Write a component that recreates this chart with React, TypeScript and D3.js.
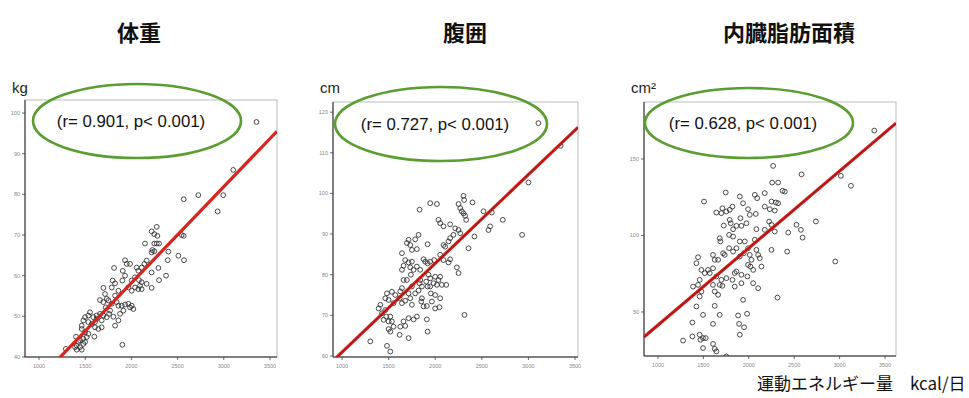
import * as d3 from "d3";

// 運動エネルギー量 (kcal/日) vs 体重 / 腹囲 / 内臓脂肪面積
const titles = ["体重", "腹囲", "内臓脂肪面積"];
const units = ["kg", "cm", "cm²"];
const stats = ["(r= 0.901, p< 0.001)", "(r= 0.727, p< 0.001)", "(r= 0.628, p< 0.001)"];
const xTicks = [1000, 1500, 2000, 2500, 3000, 3500];
const weightTicks = [40, 50, 60, 70, 80, 90, 100];
const waistTicks = [60, 70, 80, 90, 100, 110, 120];
const vfaTicks = [50, 100, 150];

// fit lines: [slope, intercept]
const weightFit = [0.02366, 10.9];
const waistFit = [0.02185, 39.09];
const vfaFit = [0.05036, -8.96];

const weightPoints = [
  [2274, 72.0], [2219, 70.9], [2248, 70.2], [2281, 69.8], [2147, 67.9], [2248, 67.9], [2274, 67.9],
  [2299, 67.9], [2227, 66.3], [2248, 66.0], [2219, 65.7], [2544, 70.0], [2400, 65.9], [2508, 64.9],
  [2569, 63.8], [2393, 63.8], [2292, 61.9], [2219, 60.8], [2299, 58.9], [2375, 60.0], [2219, 57.0],
  [2165, 63.7], [2140, 62.9], [2111, 62.0], [2057, 62.0], [2075, 61.2], [2039, 59.6], [2082, 58.9],
  [2111, 58.4], [2093, 57.5], [2075, 56.7], [2111, 56.7], [2165, 58.0], [2039, 57.1], [2003, 56.3],
  [1967, 57.1], [2003, 58.8], [1931, 63.8], [1949, 62.9], [1985, 62.9], [1906, 61.2], [1931, 60.0],
  [1812, 61.9], [1902, 58.8], [1823, 58.1], [1797, 58.8], [1787, 57.1], [1859, 56.3], [1823, 55.1],
  [1696, 57.0], [1714, 55.5], [1733, 54.3], [1660, 54.0], [1696, 53.5], [1751, 53.9], [1787, 53.1],
  [1841, 53.5], [1859, 52.6], [1895, 52.6], [1931, 52.9], [1967, 53.1], [2003, 52.6], [2021, 51.8],
  [1985, 52.2], [1913, 51.4], [1877, 50.6], [1859, 49.0], [1823, 47.7], [1805, 49.9], [1758, 50.6],
  [1733, 49.8], [1696, 50.2], [1660, 50.6], [1624, 50.2], [1588, 49.8], [1552, 51.0], [1534, 50.2],
  [1498, 49.8], [1480, 49.0], [1624, 49.4], [1678, 49.0], [1606, 48.6], [1570, 48.1], [1534, 48.6],
  [1462, 47.7], [1462, 46.9], [1498, 46.1], [1534, 45.7], [1606, 47.3], [1678, 47.3], [1642, 46.9],
  [1599, 45.0], [1516, 44.9], [1480, 44.5], [1444, 44.1], [1426, 43.7], [1408, 42.8], [1390, 42.4],
  [1444, 42.4], [1480, 43.2], [1498, 43.7], [1408, 41.8], [1462, 41.8], [1902, 43.0], [1769, 51.4],
  [1722, 52.2], [3354, 97.8], [3102, 86.0], [2994, 79.8], [2933, 75.8], [2724, 79.8], [2566, 78.8],
  [2566, 69.8], [1290, 42.0], [1400, 45.0],
];

const waistPoints = [
  [2303, 99.4], [2310, 98.4], [2250, 97.4], [2400, 97.8], [2268, 96.4], [2285, 95.6], [2303, 95.1],
  [2321, 94.5], [2332, 93.5], [1946, 97.6], [2018, 97.4], [1832, 96.0], [2035, 93.5], [2053, 92.7],
  [2089, 91.9], [2160, 92.4], [2214, 91.4], [2250, 91.0], [2268, 90.2], [2196, 89.8], [2160, 89.0],
  [2143, 88.2], [2107, 86.9], [2089, 87.3], [2357, 86.5], [2421, 89.4], [2518, 95.6], [2571, 91.0],
  [2589, 91.9], [1821, 89.8], [1785, 88.7], [1714, 88.6], [1696, 87.8], [1732, 87.3], [1803, 86.3],
  [1750, 86.1], [1918, 87.5], [1643, 85.3], [1678, 83.6], [1714, 83.0], [1750, 83.2], [1660, 82.2],
  [1732, 81.8], [1739, 80.0], [1839, 81.2], [1875, 83.8], [1893, 83.2], [1918, 82.8], [1946, 83.2],
  [1989, 83.6], [2053, 84.9], [2089, 83.6], [2143, 83.0], [2160, 83.8], [2232, 81.8], [2250, 80.4],
  [1928, 80.0], [1946, 79.1], [1999, 79.5], [2053, 79.5], [2035, 78.7], [1982, 77.9], [2018, 77.5],
  [2071, 77.5], [2118, 77.5], [1946, 77.1], [1918, 77.1], [1903, 78.3], [1839, 78.7], [1857, 77.1],
  [1832, 77.9], [1696, 78.7], [1750, 77.1], [1714, 75.4], [1732, 74.2], [1643, 76.7], [1625, 75.9],
  [1618, 74.2], [1571, 75.0], [1535, 75.8], [1482, 75.4], [1464, 74.2], [1500, 73.8], [1553, 73.0],
  [1643, 73.0], [1678, 73.6], [1750, 72.6], [1857, 74.2], [1875, 72.2], [1910, 72.3], [1850, 73.4],
  [1964, 73.4], [1999, 71.7], [2046, 72.0], [2053, 74.2], [1999, 75.0], [1953, 75.4], [1411, 72.6],
  [1393, 71.7], [1464, 71.3], [1428, 70.5], [1475, 69.7], [1518, 69.7], [1446, 68.9], [1500, 68.5],
  [1535, 68.5], [1553, 67.2], [1500, 66.6], [1518, 66.0], [1625, 67.2], [1660, 68.5], [1714, 69.3],
  [1768, 69.0], [1803, 69.7], [1678, 67.4], [1910, 69.0], [1918, 66.0], [1618, 65.2], [1714, 64.4],
  [1303, 63.6], [1482, 62.5], [1518, 61.1], [2314, 70.1], [1785, 75.4], [1821, 76.1], [1660, 78.7],
  [1768, 81.2], [1803, 82.0], [1643, 81.2], [3107, 117.3], [3346, 111.7], [3000, 102.7], [2932, 89.8],
  [2725, 93.5], [2607, 95.3],
];

const vfaPoints = [
  [2257, 134.6], [2323, 134.6], [1746, 128.1], [2371, 129.2], [2397, 128.7], [1507, 122.2], [2066, 126.6],
  [2092, 124.4], [1901, 125.5], [1937, 121.1], [2176, 127.7], [2250, 122.2], [2298, 121.6], [2323, 121.1],
  [2176, 118.9], [2231, 117.2], [2286, 116.3], [1709, 117.8], [1643, 115.0], [1698, 114.6], [1753, 115.7],
  [1790, 116.8], [1820, 118.9], [1992, 117.2], [2011, 113.5], [2077, 114.1], [1790, 110.2], [1801, 108.0],
  [1724, 106.5], [1864, 106.3], [1919, 106.3], [1908, 111.3], [1974, 108.0], [1827, 104.1], [2084, 104.1],
  [2176, 103.7], [2224, 109.1], [2250, 107.0], [2286, 102.6], [2434, 101.9], [2525, 107.0], [1783, 100.4],
  [1827, 99.3], [1680, 98.2], [1687, 96.1], [1901, 96.1], [1956, 96.1], [2066, 97.2], [1992, 91.7],
  [2084, 90.6], [2103, 87.3], [2121, 85.2], [2139, 79.7], [2250, 90.6], [2423, 89.5], [1783, 91.7],
  [1827, 89.5], [1864, 91.7], [1901, 86.3], [1945, 88.4], [2011, 87.3], [2029, 84.1], [1992, 80.8],
  [2018, 79.7], [2048, 77.5], [1606, 87.3], [1625, 84.1], [1662, 84.1], [1717, 88.4], [1735, 87.3],
  [1441, 85.8], [1423, 81.9], [1478, 77.5], [1515, 75.4], [1551, 77.5], [1570, 75.4], [1606, 78.6],
  [1643, 73.2], [1698, 71.0], [1753, 72.1], [1845, 75.4], [1864, 76.5], [1820, 71.0], [1919, 68.8],
  [1845, 66.6], [1919, 74.3], [1985, 73.2], [2048, 68.8], [2103, 65.5], [1459, 71.0], [1441, 67.7],
  [1386, 66.6], [1478, 63.4], [1459, 60.1], [1606, 67.7], [1680, 67.7], [1709, 67.1], [1625, 63.4],
  [1662, 61.2], [1937, 57.9], [2316, 59.4], [1423, 53.6], [1625, 54.0], [1496, 48.1], [1680, 48.1],
  [1882, 47.7], [1981, 48.8], [1379, 43.1], [1606, 42.2], [1893, 42.2], [1948, 40.0], [1901, 35.1],
  [1276, 31.3], [1379, 34.0], [1459, 35.1], [1496, 32.9], [1526, 32.9], [1467, 31.8], [1496, 26.4],
  [1606, 29.1], [1625, 25.9], [1643, 24.2], [1753, 20.9], [3382, 168.6], [3014, 139.0], [3125, 132.5],
  [2952, 83.0], [2739, 109.2], [2581, 140.0], [2268, 145.5], [2574, 103.7], [2592, 98.6],
];

const panels = [
  { points: weightPoints, fit: weightFit, yTicks: weightTicks, xDomain: [848, 3576], yDomain: [40, 103.2],
    frame: [25, 277, 100, 357], titleX: 139, ellipse: [137, 121, 104, 37], core: false },
  { points: waistPoints, fit: waistFit, yTicks: waistTicks, xDomain: [903, 3532], yDomain: [59.75, 122.5],
    frame: [333, 578, 102, 357], titleX: 465, ellipse: [441, 124, 106, 37], core: true },
  { points: vfaPoints, fit: vfaFit, yTicks: vfaTicks, xDomain: [846, 3621], yDomain: [21.2, 187.3],
    frame: [644, 896, 102, 356], titleX: 789, ellipse: [749, 123, 104, 35], core: true },
];

const latin = "'Liberation Sans', Arial, sans-serif";
const jp = "'Noto Sans CJK JP', sans-serif";

const Panel = ({ p, i }) => {
  const [left, right, top, bottom] = p.frame;
  const x = d3.scaleLinear().domain(p.xDomain).range([left, right]);
  const y = d3.scaleLinear().domain(p.yDomain).range([bottom, top]);
  const [slope, icpt] = p.fit;
  const fitLine = d3.line().x((d) => x(d)).y((d) => y(slope * d + icpt));
  const clipId = `clip${i}`;
  const [ex, ey, rx, ry] = p.ellipse;
  return (
    <g>
      <defs>
        <clipPath id={clipId}>
          <rect x={left} y={top} width={right - left} height={bottom - top} />
        </clipPath>
      </defs>
      <text x={p.titleX} y={41} textAnchor="middle" fontFamily={jp} fontWeight={700} fontSize={22} fill="#111">
        {titles[i]}
      </text>
      <text x={left - 13} y={93} fontFamily={latin} fontSize={15} fill="#222">{units[i]}</text>
      <rect x={left} y={top} width={right - left} height={bottom - top} fill="none" stroke="#aaa" strokeWidth={0.8} />
      <line x1={left} x2={left} y1={top} y2={bottom} stroke="#222" strokeWidth={1} />
      <line x1={left} x2={right} y1={bottom} y2={bottom} stroke="#222" strokeWidth={1} />
      {p.yTicks.map((t) => (
        <g key={t}>
          <line x1={left - 3} x2={left} y1={y(t)} y2={y(t)} stroke="#444" strokeWidth={0.8} />
          <text x={left - 5} y={y(t) + 2} textAnchor="end" fontFamily={latin} fontSize={5.5} fill="#888">{t}</text>
        </g>
      ))}
      {xTicks.map((t) => (
        <g key={t}>
          <line x1={x(t)} x2={x(t)} y1={bottom} y2={bottom + 3} stroke="#444" strokeWidth={0.8} />
          <text x={x(t)} y={bottom + 11} textAnchor="middle" fontFamily={latin} fontSize={5.5} fill="#888">{t}</text>
        </g>
      ))}
      <g clipPath={`url(#${clipId})`}>
        {p.points.map((d, k) => (
          <circle key={k} cx={x(d[0])} cy={y(d[1])} r={2.4} fill="none" stroke="#2a2a2a" strokeWidth={0.85} />
        ))}
        <path d={fitLine(p.xDomain)} stroke="#d8241f" strokeWidth={3.2} fill="none" />
        {p.core && <path d={fitLine(p.xDomain)} stroke="#7a1010" strokeWidth={0.9} fill="none" />}
      </g>
      <ellipse cx={ex} cy={ey} rx={rx} ry={ry} fill="none" stroke="#5a9e32" strokeWidth={2.6} />
      <text x={ex - 6} y={ey + 6} textAnchor="middle" fontFamily={latin} fontSize={16.8} fill="#111">{stats[i]}</text>
    </g>
  );
};

export default function App() {
  return (
    <svg width={969} height={398} style={{ position: "absolute", left: 0, top: 0, background: "#fff" }}>
      <rect width={969} height={398} fill="#fff" />
      {panels.map((p, i) => (
        <Panel key={i} p={p} i={i} />
      ))}
      <text x={757} y={390} fontFamily={jp} fontSize={17} fill="#111">運動エネルギー量　kcal/日</text>
    </svg>
  );
}
